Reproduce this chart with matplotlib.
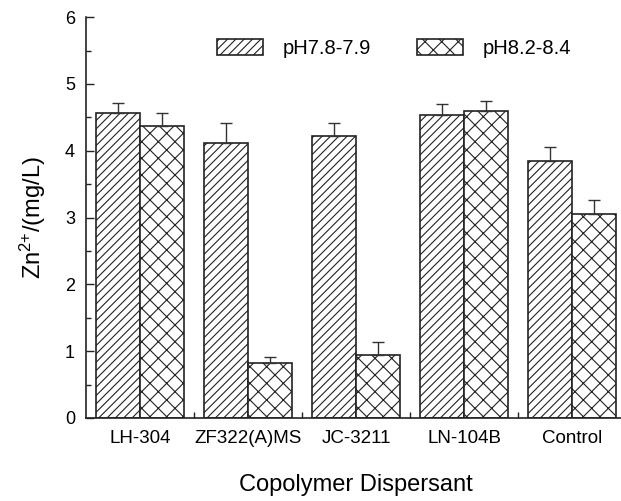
import numpy as np
import matplotlib.pyplot as plt
from matplotlib.patches import Patch

plt.rcParams['font.family'] = ['Liberation Sans', 'DejaVu Sans']
plt.rcParams['mathtext.default'] = 'regular'
plt.rcParams['hatch.linewidth'] = 0.8

categories = ["LH-304", "ZF322(A)MS", "JC-3211", "LN-104B", "Control"]
ph_low = [4.57, 4.11, 4.22, 4.54, 3.85]
ph_low_err = [0.15, 0.30, 0.20, 0.16, 0.20]
ph_high = [4.37, 0.83, 0.94, 4.60, 3.06]
ph_high_err = [0.20, 0.09, 0.20, 0.15, 0.20]
series_names = ["pH7.8-7.9", "pH8.2-8.4"]

fig = plt.figure(figsize=(6.21, 5.01), dpi=100)
ax = fig.add_axes([0.1385, 0.1657, 0.8696, 0.800])

x = np.arange(len(categories))
w = 0.405
line_c = "#222222"

ax.bar(x - w / 2, ph_low, w, color="white", edgecolor=line_c, linewidth=1.2, hatch="////")
ax.bar(x + w / 2, ph_high, w, color="white", edgecolor=line_c, linewidth=1.2, hatch="xx")
ax.errorbar(x - w / 2, ph_low, yerr=[np.zeros(5), ph_low_err], fmt="none",
            ecolor="#333333", elinewidth=1.0, capsize=4, capthick=1.0)
ax.errorbar(x + w / 2, ph_high, yerr=[np.zeros(5), ph_high_err], fmt="none",
            ecolor="#333333", elinewidth=1.0, capsize=4, capthick=1.0)

ax.set_xlim(-0.5, 4.5)
ax.set_ylim(0, 6)
ax.spines["top"].set_visible(False)
ax.spines["right"].set_visible(False)
for s in ["left", "bottom"]:
    ax.spines[s].set_linewidth(1.2)
    ax.spines[s].set_color(line_c)

ax.set_xticks(x)
ax.set_xticklabels(categories)
ax.set_xticks(np.arange(0.5, 4.5, 1), minor=True)
ax.tick_params(axis="x", which="major", length=0, pad=9, labelsize=13.5)
ax.tick_params(axis="x", which="minor", direction="in", length=4, width=1.0, color=line_c)
ax.set_yticks(np.arange(0, 7, 1))
ax.set_yticks(np.arange(0.5, 6, 1), minor=True)
ax.tick_params(axis="y", which="major", direction="in", length=6, width=1.0,
               pad=8, labelsize=13, color=line_c)
ax.tick_params(axis="y", which="minor", direction="in", length=3.5, width=1.0, color=line_c)

ax.set_xlabel("Copolymer Dispersant", fontsize=17, labelpad=19)
ax.set_ylabel("Zn$^{2{+}}$/(mg/L)", fontsize=17, labelpad=12)

handles = [Patch(facecolor="white", edgecolor=line_c, linewidth=1.2, hatch="////"),
           Patch(facecolor="white", edgecolor=line_c, linewidth=1.2, hatch="xx")]
ax.legend(handles, series_names, loc="upper left", bbox_to_anchor=(0.243, 0.945),
          ncol=2, frameon=False, fontsize=14.5, handlelength=2.25, handleheight=0.85,
          handletextpad=1.0, columnspacing=2.3, borderpad=0, borderaxespad=0)

fig.savefig("out.png", dpi=100)
